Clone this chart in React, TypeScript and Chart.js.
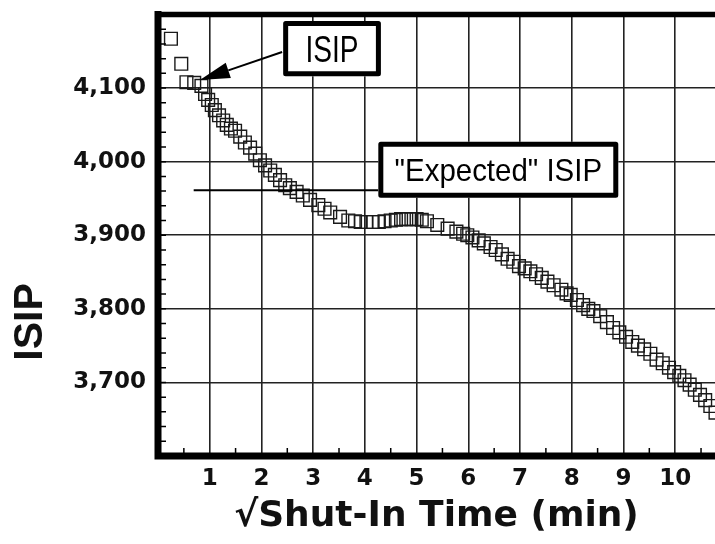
import React, { useEffect, useRef } from 'react';
import { Chart, registerables } from 'chart.js';

Chart.register(...registerables);

// √ shut-in time (min) and ISIP values
const sqrtTime = [
  0.25, 0.45, 0.55, 0.70, 0.84, 0.91, 0.97, 1.04, 1.10, 1.18, 1.26, 1.33, 1.41, 1.49, 1.59, 1.68,
  1.78, 1.88, 1.97, 2.07, 2.17, 2.26, 2.36, 2.46, 2.55, 2.68, 2.80, 2.94, 3.10, 3.22, 3.33, 3.52,
  3.68, 3.81, 3.92, 4.03, 4.15, 4.27, 4.38, 4.50, 4.60, 4.70, 4.80, 4.90, 5.00, 5.10, 5.20, 5.40,
  5.60, 5.77, 5.90, 5.98, 6.08, 6.20, 6.30, 6.43, 6.53, 6.65, 6.76, 6.87, 6.98, 7.09, 7.20, 7.31,
  7.42, 7.53, 7.65, 7.80, 7.90, 7.98, 8.10, 8.22, 8.32, 8.42, 8.55, 8.68, 8.80, 8.92, 9.05, 9.17,
  9.28, 9.40, 9.52, 9.64, 9.76, 9.88, 9.98, 10.08, 10.18, 10.28, 10.38, 10.48, 10.58, 10.68, 10.78,
  10.88,
];
const isipValues = [
  4167, 4133, 4108, 4107, 4103, 4092, 4084, 4077, 4070, 4063, 4056, 4050, 4045, 4042, 4034, 4026,
  4019, 4011, 4002, 3995, 3988, 3982, 3975, 3968, 3964, 3959, 3954, 3948, 3941, 3936, 3931, 3925,
  3920, 3919, 3918, 3918, 3918, 3918, 3919, 3920, 3921, 3922, 3922, 3922, 3922, 3921, 3919, 3914,
  3909, 3905, 3902, 3900, 3897, 3893, 3889, 3884, 3880, 3874, 3868, 3864, 3858, 3855, 3851, 3847,
  3842, 3837, 3832, 3826, 3821, 3819, 3812, 3805, 3800, 3797, 3790, 3782, 3774, 3768, 3762, 3755,
  3750, 3745, 3739, 3731, 3726, 3720, 3714, 3709, 3703, 3697, 3690, 3683, 3676, 3668, 3659,
  3650,
];

const xTickValues = [1, 2, 3, 4, 5, 6, 7, 8, 9, 10];
const yTickValues = [3700, 3800, 3900, 4000, 4100];
const xRange = [0, 10.77];
const yRange = [3600, 4200];
const xTitle = '√Shut-In Time (min)';
const yTitle = 'ISIP';

// annotations (data coordinates)
const isipLabel = 'ISIP';
const isipBox = { x1: 2.42, x2: 4.31, y1: 4191, y2: 4116 };
const isipArrow = { fromX: 2.40, fromY: 4149, toX: 0.81, toY: 4111 };
const expectedLabel = '"Expected" ISIP';
const expectedBox = { x1: 4.26, x2: 8.9, y1: 4027, y2: 3951 };
const expectedIsip = 3961;
const expectedLineStart = 0.69;

const decorPlugin = {
  id: 'decor',
  afterDatasetsDraw(chart: any) {
    const { ctx, chartArea: a, scales } = chart;
    const xs = scales.x;
    const ys = scales.y;
    const X = (v: number) => xs.getPixelForValue(v);
    const Y = (v: number) => ys.getPixelForValue(v);
    ctx.save();
    ctx.strokeStyle = '#000';
    ctx.fillStyle = '#000';

    // minor ticks
    ctx.lineWidth = 1.5;
    ctx.beginPath();
    for (let v = yRange[0] + 20; v < yRange[1]; v += 20) {
      const py = Y(v);
      ctx.moveTo(a.left, py);
      ctx.lineTo(a.left + 8, py);
    }
    for (let v = 0.5; v < xRange[1]; v += 1) {
      const px = X(v);
      ctx.moveTo(px, a.bottom);
      ctx.lineTo(px, a.bottom - 8);
    }
    ctx.stroke();

    // frame
    ctx.lineCap = 'square';
    ctx.lineWidth = 5.5;
    ctx.beginPath();
    ctx.moveTo(a.left, a.top);
    ctx.lineTo(a.right + 10, a.top);
    ctx.stroke();
    ctx.lineWidth = 7;
    ctx.beginPath();
    ctx.moveTo(a.left, a.top);
    ctx.lineTo(a.left, a.bottom);
    ctx.lineTo(a.right + 10, a.bottom);
    ctx.stroke();
    ctx.lineCap = 'butt';

    // expected ISIP line
    ctx.lineWidth = 2;
    ctx.beginPath();
    ctx.moveTo(X(expectedLineStart), Y(expectedIsip));
    ctx.lineTo(X(expectedBox.x1), Y(expectedIsip));
    ctx.stroke();

    // arrow
    const fx = X(isipArrow.fromX), fy = Y(isipArrow.fromY);
    const tx = X(isipArrow.toX), ty = Y(isipArrow.toY);
    const ang = Math.atan2(ty - fy, tx - fx);
    const headLen = 30, headW = 8;
    const bx = tx - Math.cos(ang) * headLen, by = ty - Math.sin(ang) * headLen;
    ctx.lineWidth = 2;
    ctx.beginPath();
    ctx.moveTo(fx, fy);
    ctx.lineTo(bx, by);
    ctx.stroke();
    ctx.beginPath();
    ctx.moveTo(tx, ty);
    ctx.lineTo(bx + Math.sin(ang) * headW, by - Math.cos(ang) * headW);
    ctx.lineTo(bx - Math.sin(ang) * headW, by + Math.cos(ang) * headW);
    ctx.closePath();
    ctx.fill();

    // boxes
    const drawBox = (b: any, text: string, size: number, sx: number) => {
      const l = X(b.x1), r = X(b.x2), t = Y(b.y1), bt = Y(b.y2);
      ctx.fillStyle = '#fff';
      ctx.fillRect(l, t, r - l, bt - t);
      ctx.lineWidth = 5;
      ctx.lineJoin = 'round';
      ctx.strokeStyle = '#000';
      ctx.strokeRect(l + 2.5, t + 2.5, r - l - 5, bt - t - 5);
      ctx.fillStyle = '#000';
      ctx.save();
      ctx.translate((l + r) / 2, (t + bt) / 2 + size * 0.716 / 2);
      ctx.scale(sx, 1);
      ctx.font = `${size}px "Liberation Sans", Arial, sans-serif`;
      ctx.textAlign = 'center';
      ctx.textBaseline = 'alphabetic';
      ctx.fillText(text, 0, 0);
      ctx.restore();
    };
    drawBox(isipBox, isipLabel, 36, 0.78);
    drawBox(expectedBox, expectedLabel, 32, 0.92);

    // y axis title
    ctx.save();
    ctx.translate(31, 322);
    ctx.rotate(-Math.PI / 2);
    ctx.font = 'bold 41px "Liberation Sans", Arial, sans-serif';
    ctx.fillStyle = '#111';
    ctx.textAlign = 'center';
    ctx.textBaseline = 'middle';
    ctx.fillText(yTitle, 0, 0);
    ctx.restore();

    ctx.restore();
  },
};

export default function App() {
  const ref = useRef<HTMLCanvasElement | null>(null);
  useEffect(() => {
    if (!ref.current) return;
    const data = sqrtTime.map((x, i) => ({ x, y: isipValues[i] }));
    const chart = new Chart(ref.current, {
      type: 'scatter',
      data: {
        datasets: [
          {
            data,
            pointStyle: 'rect',
            pointRadius: 9,
            pointHoverRadius: 9,
            borderColor: '#1a1a1a',
            borderWidth: 1.4,
            backgroundColor: 'rgba(0,0,0,0)',
            showLine: false,
          },
        ],
      },
      options: {
        animation: false,
        responsive: false,
        layout: { autoPadding: false, padding: { top: 14.5, right: 0, left: 0, bottom: 0 } },
        plugins: { legend: { display: false }, tooltip: { enabled: false } },
        scales: {
          x: {
            type: 'linear',
            min: xRange[0],
            max: xRange[1],
            afterBuildTicks: (axis: any) => {
              axis.ticks = xTickValues.map((v) => ({ value: v }));
            },
            afterFit: (axis: any) => {
              axis.height = 88;
              axis.paddingLeft = 0;
              axis.paddingRight = 0;
            },
            border: { display: false },
            grid: { color: '#222', lineWidth: 1.6, drawTicks: false },
            ticks: {
              padding: 9,
              color: '#111',
              maxRotation: 0,
              autoSkip: false,
              font: { family: '"DejaVu Sans", sans-serif', weight: 'bold', size: 23 },
              callback: (v: any) => String(v),
            },
            title: {
              display: true,
              text: xTitle,
              color: '#111',
              padding: { top: 0, bottom: 6 },
              font: { family: '"DejaVu Sans", sans-serif', weight: 'bold', size: 36, lineHeight: 1.2 },
            },
          },
          y: {
            type: 'linear',
            min: yRange[0],
            max: yRange[1],
            afterBuildTicks: (axis: any) => {
              axis.ticks = yTickValues.map((v) => ({ value: v }));
            },
            afterFit: (axis: any) => {
              axis.width = 158;
              axis.paddingTop = 0;
              axis.paddingBottom = 0;
            },
            border: { display: false },
            grid: { color: '#222', lineWidth: 1.6, drawTicks: false },
            ticks: {
              padding: 12,
              color: '#111',
              font: { family: '"DejaVu Sans", sans-serif', weight: 'bold', size: 23 },
              callback: (v: any) => Number(v).toLocaleString('en-US'),
            },
          },
        },
      },
      plugins: [decorPlugin],
    } as any);
    return () => chart.destroy();
  }, []);
  return (
    <div style={{ position: 'fixed', left: 0, top: 0, width: 715, height: 544, background: '#fff', overflow: 'hidden' }}>
      <canvas ref={ref} width={715} height={544} />
    </div>
  );
}
